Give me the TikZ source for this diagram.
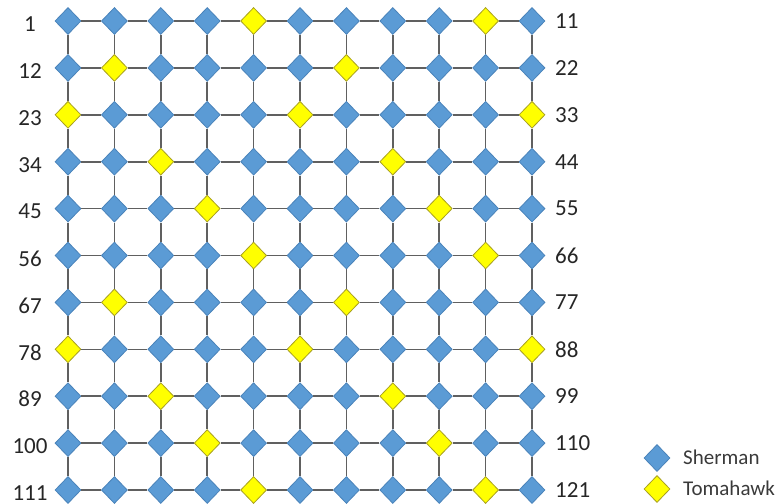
\documentclass[tikz,border=0pt]{standalone}
\usepackage{fontspec}
\setmainfont{Carlito}
\usetikzlibrary{shapes.geometric}
\definecolor{shfill}{HTML}{5B9BD5}
\definecolor{shdraw}{HTML}{4A83BA}
\definecolor{tmfill}{HTML}{FFFF00}
\definecolor{tmdraw}{HTML}{A8A020}
\definecolor{gridc}{HTML}{606060}
\definecolor{txtc}{HTML}{262626}
\definecolor{legc}{HTML}{3A3A3A}
\tikzset{
  dia/.style={shape=diamond, minimum width=26pt, minimum height=27pt, inner sep=0pt, line width=0.8pt},
  sher/.style={dia, fill=shfill, draw=shdraw},
  tom/.style={dia, fill=tmfill, draw=tmdraw},
  link/.style={draw=gridc, line width=1.6pt},
  lab/.style={font=\fontsize{23}{26}\selectfont, text=txtc, inner sep=0pt},
  leg/.style={font=\fontsize{21}{24}\selectfont, text=legc, inner sep=0pt, anchor=west}
}
\begin{document}
\begin{tikzpicture}[x=1pt,y=1pt]
\useasboundingbox (0,0) rectangle (783,-503);
\foreach \r in {1,...,11}{
  \pgfmathtruncatemacro\k{{0,2,1,3,4}[mod(\r-1,5)]}
  \foreach \c in {1,...,11}{
    \pgfmathtruncatemacro\isy{mod(\c-\k,5)==0 ? 1 : 0}
    \ifnum\isy=1
      \node[tom] (n-\r-\c) at ({68+(\c-1)*46.4},{-21-(\r-1)*46.9}) {};
    \else
      \node[sher] (n-\r-\c) at ({68+(\c-1)*46.4},{-21-(\r-1)*46.9}) {};
    \fi
  }
  \pgfmathtruncatemacro\lnum{(\r-1)*11+1}
  \pgfmathtruncatemacro\rnum{\r*11}
  \node[lab] (l-\r) at (30,{-24-(\r-1)*46.9}) {\lnum};
  \node[lab, anchor=west] (r-\r) at (555,{-21-(\r-1)*46.9}) {\rnum};
}
\foreach \r in {1,...,11}{
  \foreach \c [evaluate=\c as \cn using int(\c+1)] in {1,...,10}{
    \draw[link] (n-\r-\c) -- (n-\r-\cn);
    \draw[link] (n-\c-\r) -- (n-\cn-\r);
  }
}
\node[sher] (legs) at (657,-458) {};
\node[tom] (legt) at (657,-489) {};
\node[leg] (legst) at (683,-457) {Sherman};
\node[leg] (legtt) at (683,-488) {Tomahawk};
\end{tikzpicture}
\end{document}
